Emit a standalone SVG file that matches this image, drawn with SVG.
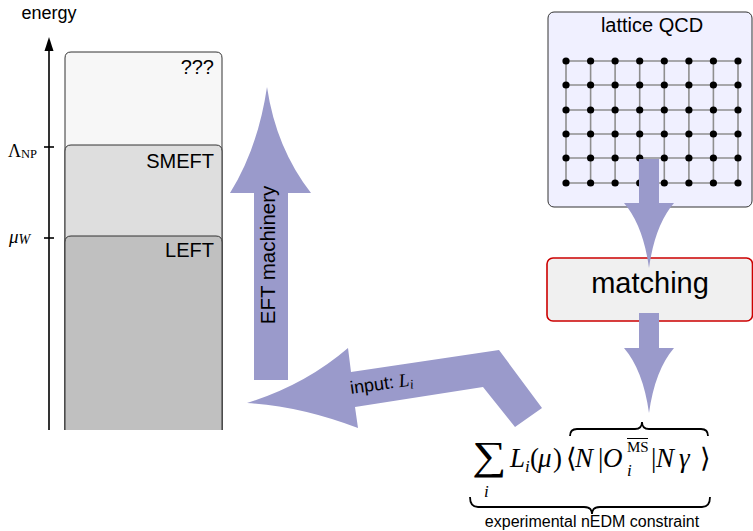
<svg xmlns="http://www.w3.org/2000/svg" width="753" height="531" viewBox="0 0 753 531">
<style>
.sans{font-family:"Liberation Sans",Arial,sans-serif;fill:#000}
.serif{font-family:"Liberation Serif","DejaVu Serif",serif;fill:#000}
.it{font-style:italic}
.box{stroke:#333;stroke-width:1}
.grid{stroke:#8f8f8f;stroke-width:1.6}
.arrow{fill:#9a9acb}
.brace{fill:none;stroke:#000;stroke-width:1.8}
</style>
<rect width="753" height="531" fill="#fff"/>

<g id="axis">
  <text class="sans" x="49" y="19" font-size="18" text-anchor="middle">energy</text>
  <line x1="49" y1="430" x2="49" y2="48" stroke="#000" stroke-width="1.6"/>
  <polygon points="49,37 44.5,51 53.5,51" fill="#000"/>
  <line x1="44" y1="147" x2="54" y2="147" stroke="#000" stroke-width="1.6"/>
  <line x1="44" y1="238" x2="54" y2="238" stroke="#000" stroke-width="1.6"/>
  <text class="serif" x="8" y="157" font-size="18">Λ<tspan font-size="12.5" dy="1">NP</tspan></text>
  <text class="serif" x="9" y="243" font-size="19"><tspan class="it">μ</tspan><tspan class="it" font-size="14" dy="1">W</tspan></text>
</g>

<g id="box-unknown">
  <path class="box" d="M65,430 V58 Q65,52 71,52 H216 Q222,52 222,58 V430" fill="#f7f7f7"/>
  <text class="sans" x="214" y="74" font-size="20" text-anchor="end">???</text>
</g>
<g id="box-smeft">
  <path class="box" d="M65,430 V151 Q65,145 71,145 H216 Q222,145 222,151 V430" fill="#dedede"/>
  <text class="sans" x="214" y="168" font-size="20" text-anchor="end">SMEFT</text>
</g>
<g id="box-left">
  <path class="box" d="M65,430 V242 Q65,236 71,236 H216 Q222,236 222,242 V430" fill="#c0c0c0"/>
  <text class="sans" x="214" y="257" font-size="20" text-anchor="end">LEFT</text>
</g>

<g id="lattice">
  <rect class="box" x="548" y="12" width="204" height="195" rx="6" fill="#f0f0ff"/>
  <text class="sans" x="652" y="32" font-size="20" text-anchor="middle">lattice QCD</text>
  <g class="grid">
    <line x1="566" y1="61" x2="738" y2="61"/>
    <line x1="566" y1="85" x2="738" y2="85"/>
    <line x1="566" y1="110" x2="738" y2="110"/>
    <line x1="566" y1="134" x2="738" y2="134"/>
    <line x1="566" y1="158" x2="738" y2="158"/>
    <line x1="566" y1="183" x2="738" y2="183"/>
    <line x1="566" y1="61" x2="566" y2="183"/>
    <line x1="590.6" y1="61" x2="590.6" y2="183"/>
    <line x1="615.1" y1="61" x2="615.1" y2="183"/>
    <line x1="639.7" y1="61" x2="639.7" y2="183"/>
    <line x1="664.3" y1="61" x2="664.3" y2="183"/>
    <line x1="688.9" y1="61" x2="688.9" y2="183"/>
    <line x1="713.4" y1="61" x2="713.4" y2="183"/>
    <line x1="738" y1="61" x2="738" y2="183"/>
  </g>
  <g fill="#000">
    <circle cx="566" cy="61" r="3.6"/><circle cx="590.6" cy="61" r="3.6"/><circle cx="615.1" cy="61" r="3.6"/><circle cx="639.7" cy="61" r="3.6"/><circle cx="664.3" cy="61" r="3.6"/><circle cx="688.9" cy="61" r="3.6"/><circle cx="713.4" cy="61" r="3.6"/><circle cx="738" cy="61" r="3.6"/>
    <circle cx="566" cy="85" r="3.6"/><circle cx="590.6" cy="85" r="3.6"/><circle cx="615.1" cy="85" r="3.6"/><circle cx="639.7" cy="85" r="3.6"/><circle cx="664.3" cy="85" r="3.6"/><circle cx="688.9" cy="85" r="3.6"/><circle cx="713.4" cy="85" r="3.6"/><circle cx="738" cy="85" r="3.6"/>
    <circle cx="566" cy="110" r="3.6"/><circle cx="590.6" cy="110" r="3.6"/><circle cx="615.1" cy="110" r="3.6"/><circle cx="639.7" cy="110" r="3.6"/><circle cx="664.3" cy="110" r="3.6"/><circle cx="688.9" cy="110" r="3.6"/><circle cx="713.4" cy="110" r="3.6"/><circle cx="738" cy="110" r="3.6"/>
    <circle cx="566" cy="134" r="3.6"/><circle cx="590.6" cy="134" r="3.6"/><circle cx="615.1" cy="134" r="3.6"/><circle cx="639.7" cy="134" r="3.6"/><circle cx="664.3" cy="134" r="3.6"/><circle cx="688.9" cy="134" r="3.6"/><circle cx="713.4" cy="134" r="3.6"/><circle cx="738" cy="134" r="3.6"/>
    <circle cx="566" cy="158" r="3.6"/><circle cx="590.6" cy="158" r="3.6"/><circle cx="615.1" cy="158" r="3.6"/><circle cx="639.7" cy="158" r="3.6"/><circle cx="664.3" cy="158" r="3.6"/><circle cx="688.9" cy="158" r="3.6"/><circle cx="713.4" cy="158" r="3.6"/><circle cx="738" cy="158" r="3.6"/>
    <circle cx="566" cy="183" r="3.6"/><circle cx="590.6" cy="183" r="3.6"/><circle cx="615.1" cy="183" r="3.6"/><circle cx="639.7" cy="183" r="3.6"/><circle cx="664.3" cy="183" r="3.6"/><circle cx="688.9" cy="183" r="3.6"/><circle cx="713.4" cy="183" r="3.6"/><circle cx="738" cy="183" r="3.6"/>
  </g>
</g>

<g id="matching">
  <rect x="547" y="258" width="205.5" height="63" rx="6" fill="#f0f0f0" stroke="#cc0000" stroke-width="1.6"/>
  <text class="sans" x="650" y="293" font-size="29" text-anchor="middle">matching</text>
</g>

<g id="formula">
  <path class="brace" d="M570,436 Q570,429 577,429 L635,429 Q642,429 642,422 Q642,429 649,429 L701,429 Q708,429 708,436"/>
  <text class="serif" transform="translate(472,469) scale(1.2,1)" font-size="40">∑</text>
  <text class="serif it" x="484" y="497" font-size="17">i</text>
  <text class="serif it" x="510" y="467" font-size="27">L</text>
  <text class="serif it" x="525" y="472" font-size="17">i</text>
  <text class="serif" x="530" y="467" font-size="27">(</text>
  <text class="serif it" x="538" y="467" font-size="27">μ</text>
  <text class="serif" x="553" y="467" font-size="27">)</text>
  <text class="serif" x="566" y="467" font-size="27">⟨</text>
  <text class="serif it" x="575" y="467" font-size="27">N</text>
  <text class="serif" x="598" y="467" font-size="27">|</text>
  <text class="serif it" x="603" y="467" font-size="27">O</text>
  <text class="serif" x="627" y="452" font-size="15">MS</text>
  <line x1="627" y1="438.5" x2="648" y2="438.5" stroke="#000" stroke-width="1"/>
  <text class="serif it" x="627" y="476" font-size="17">i</text>
  <text class="serif" x="651" y="467" font-size="27">|</text>
  <text class="serif it" x="656" y="467" font-size="27">N</text>
  <text class="serif it" x="679" y="467" font-size="27">γ</text>
  <text class="serif" x="700" y="467" font-size="27">⟩</text>
  <path class="brace" d="M470,497 Q470,507 478,507 L584,507 Q592,507 592,514 Q592,507 600,507 L702,507 Q710,507 710,497"/>
  <text class="sans" x="592" y="527" font-size="16" text-anchor="middle">experimental nEDM constraint</text>
</g>

<g id="connectors">
  <path class="arrow" d="M254,380 V193 H230 Q258,148 267,87 Q276,148 311,193 H288 V380 Z"/>
  <text class="sans" transform="translate(275,255) rotate(-90)" font-size="20.5" text-anchor="middle">EFT machinery</text>
  <path class="arrow" d="M247,403 Q305,385 348,348 L351,372 L499,350 L542,408 L515,427 L483,387 L355,407 L358,428 Q300,406 247,403 Z"/>
  <text transform="translate(351,394) rotate(-8)" font-size="18"><tspan class="sans">input: </tspan><tspan class="serif it" font-size="19">L</tspan><tspan class="serif it" font-size="13" dy="3">i</tspan></text>
  <path class="arrow" d="M639,159 H659 V203 H674 Q655,225 649,268 Q643,225 624,203 H639 Z"/>
  <path class="arrow" d="M639,313 H659 V348 H674 Q655,370 649,413 Q643,370 624,348 H639 Z"/>
</g>
</svg>
